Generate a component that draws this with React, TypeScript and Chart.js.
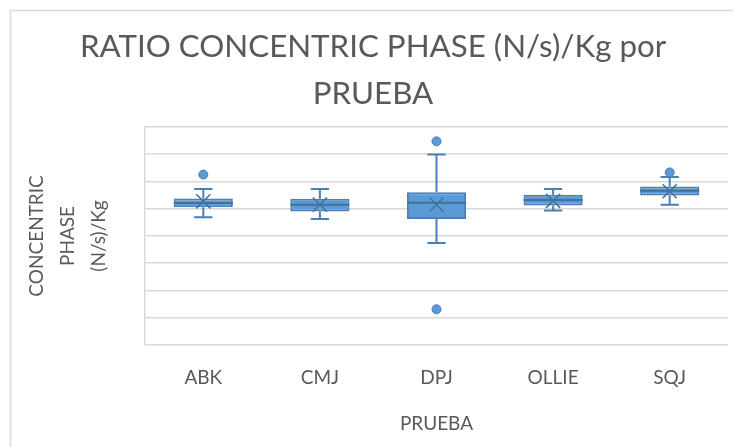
import React, { useEffect, useRef } from 'react';
import { Chart, registerables } from 'chart.js';

Chart.register(...registerables);

const categories = ['ABK', 'CMJ', 'DPJ', 'OLLIE', 'SQJ'];
const minValues = [4.69, 4.62, 3.74, 4.93, 5.14];
const q1Values = [5.05, 4.9, 4.62, 5.12, 5.48];
const medianValues = [5.21, 5.14, 5.22, 5.32, 5.66];
const q3Values = [5.37, 5.36, 5.6, 5.51, 5.81];
const maxValues = [5.72, 5.72, 6.99, 5.72, 6.16];
const meanValues = [5.27, 5.15, 5.15, 5.29, 5.64];
const outlierCategories = ['ABK', 'DPJ', 'DPJ', 'SQJ'];
const outlierValues = [6.25, 7.47, 1.31, 6.33];

const yMin = 0;
const yMax = 8;
const yStep = 1;

const titleLines = ['RATIO CONCENTRIC PHASE (N/s)/Kg por', 'PRUEBA'];
const yTitleLines = ['CONCENTRIC', 'PHASE', '(N/s)/Kg'];
const xTitle = 'PRUEBA';

const FONT = 'Lato';
const TEXT = '#595959';
const GRID = '#D9D9D9';
const FILL = '#5B9BD5';
const EDGE = '#4A7FB8';
const DARK = '#41719C';

export default function App() {
  const ref = useRef<HTMLCanvasElement>(null);

  useEffect(() => {
    if (!ref.current) return;

    const framePlugin = {
      id: 'frame',
      beforeDraw(chart: any) {
        const ctx = chart.ctx;
        ctx.save();
        ctx.fillStyle = '#ffffff';
        ctx.fillRect(0, 0, chart.width, chart.height);
        ctx.strokeStyle = GRID;
        ctx.lineWidth = 1.5;
        ctx.strokeRect(10.5, 10.5, chart.width + 20, chart.height + 20);
        ctx.restore();
      },
    };

    const boxPlugin = {
      id: 'boxWhisker',
      afterDatasetDraw(chart: any, args: any) {
        if (args.index !== 0) return;
        const ctx = chart.ctx;
        const ys = chart.scales.y;
        const meta = chart.getDatasetMeta(0);
        ctx.save();
        meta.data.forEach((bar: any, i: number) => {
          const x = bar.x;
          const w = bar.width;
          const cap = w * 0.155;
          const yMaxP = ys.getPixelForValue(maxValues[i]);
          const yMinP = ys.getPixelForValue(minValues[i]);
          const yQ1 = ys.getPixelForValue(q1Values[i]);
          const yQ3 = ys.getPixelForValue(q3Values[i]);
          const yMed = ys.getPixelForValue(medianValues[i]);
          ctx.strokeStyle = EDGE;
          ctx.lineWidth = 2;
          ctx.beginPath();
          ctx.moveTo(x, yQ3);
          ctx.lineTo(x, yMaxP);
          ctx.moveTo(x - cap, yMaxP);
          ctx.lineTo(x + cap, yMaxP);
          ctx.moveTo(x, yQ1);
          ctx.lineTo(x, yMinP);
          ctx.moveTo(x - cap, yMinP);
          ctx.lineTo(x + cap, yMinP);
          ctx.stroke();
          ctx.strokeStyle = DARK;
          ctx.lineWidth = 2;
          ctx.beginPath();
          ctx.moveTo(x - w / 2, yMed);
          ctx.lineTo(x + w / 2, yMed);
          ctx.stroke();
        });
        ctx.restore();
      },
    };

    const chart = new Chart(ref.current, {
      type: 'bar',
      data: {
        labels: categories,
        datasets: [
          {
            type: 'bar',
            label: 'box',
            data: categories.map((_, i) => [q1Values[i], q3Values[i]]),
            backgroundColor: FILL,
            borderColor: EDGE,
            borderWidth: 2,
            borderSkipped: false,
            barPercentage: 0.507,
            categoryPercentage: 1,
            order: 3,
          } as any,
          {
            type: 'line',
            label: 'mean',
            data: meanValues,
            showLine: false,
            pointStyle: 'crossRot',
            pointRadius: 10,
            pointBorderColor: DARK,
            pointBorderWidth: 1.5,
            pointBackgroundColor: DARK,
            order: 2,
          } as any,
          {
            type: 'line',
            label: 'outliers',
            data: outlierCategories.map((c, i) => ({ x: c, y: outlierValues[i] })),
            showLine: false,
            pointStyle: 'circle',
            pointRadius: 4.5,
            pointBackgroundColor: FILL,
            pointBorderColor: EDGE,
            pointBorderWidth: 1,
            order: 1,
          } as any,
        ],
      },
      options: {
        responsive: false,
        animation: false,
        events: [],
        layout: { autoPadding: false, padding: { left: 18, top: 0, right: 5, bottom: 0 } },
        plugins: {
          legend: { display: false },
          tooltip: { enabled: false },
          title: {
            display: true,
            text: titleLines,
            color: TEXT,
            font: { family: FONT, size: 31.3, weight: 'normal', lineHeight: 1.5 },
            padding: { top: 23, bottom: 10 },
          },
        },
        scales: {
          x: {
            grid: { display: false, drawTicks: false },
            border: { display: false },
            ticks: { color: TEXT, font: { family: FONT, size: 19 }, padding: 21 },
            title: {
              display: true,
              text: xTitle,
              color: TEXT,
              font: { family: FONT, size: 19, lineHeight: 1.2 },
              padding: { top: 0, bottom: 12 },
            },
            afterFit(s: any) {
              s.height = 102;
              s.paddingLeft = 0;
              s.paddingRight = 0;
            },
          },
          y: {
            min: yMin,
            max: yMax,
            ticks: { display: false, stepSize: yStep },
            grid: { color: GRID, lineWidth: 1.5, drawTicks: false },
            border: { display: true, color: GRID, width: 1.5 },
            title: {
              display: true,
              text: yTitleLines,
              color: TEXT,
              font: { family: FONT, size: 19, lineHeight: 1.63 },
              padding: { top: 3, bottom: 0 },
            },
            afterFit(s: any) {
              s.width = 127;
            },
          },
        },
      } as any,
      plugins: [framePlugin, boxPlugin],
    });

    return () => chart.destroy();
  }, []);

  return (
    <div style={{ position: 'fixed', left: 0, top: 0, width: 733, height: 447 }}>
      <canvas ref={ref} width={733} height={447} style={{ width: 733, height: 447 }} />
    </div>
  );
}
